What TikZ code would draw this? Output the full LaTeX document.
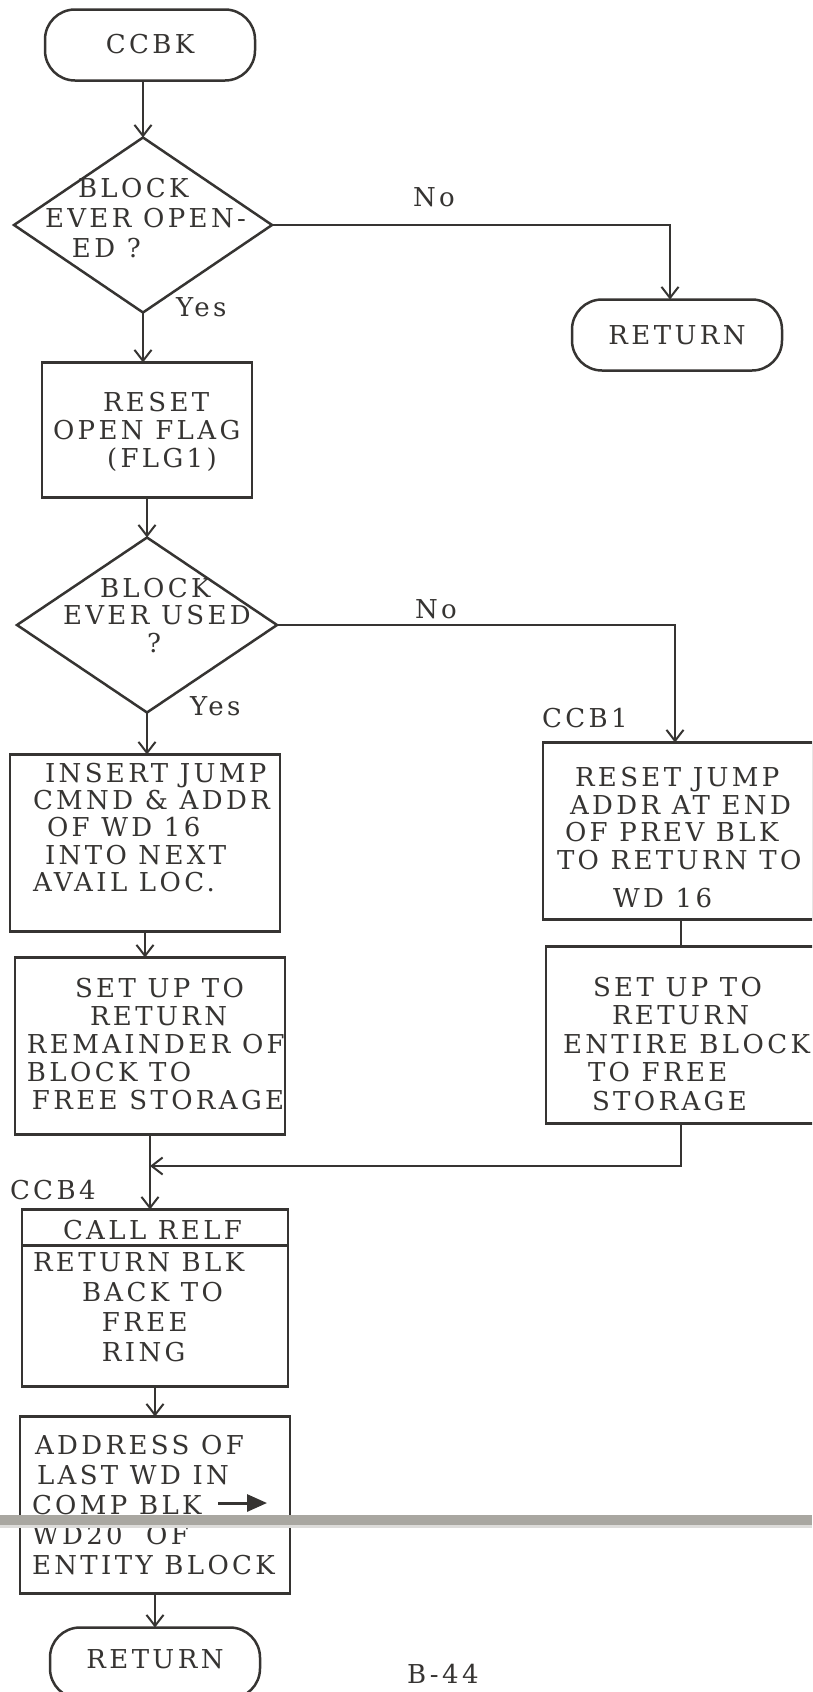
\documentclass[tikz,border=0pt]{standalone}
\usepackage{fontspec}
\setmainfont{DejaVu Serif}[LetterSpace=13]
\usetikzlibrary{arrows.meta,shapes.geometric,calc}
\definecolor{ink}{HTML}{363432}
\definecolor{fold}{HTML}{A9A7A1}
\newcommand\flowfont{\fontsize{26}{28}\selectfont}
\newcommand\lpitch[1]{\fontsize{26}{#1}\selectfont}

\begin{document}
\begin{tikzpicture}[x=1pt,y=-1pt,
  every node/.style={inner sep=0pt, outer sep=0pt},
  line/.style={draw=ink, line width=2.5pt},
  arr/.style={line, -{Straight Barb[length=11pt,width=17pt,line width=2pt]}},
  term/.style={line, rectangle, rounded corners=30pt, minimum width=210pt,
               minimum height=71pt, text=ink, font=\flowfont},
  proc/.style={line, rectangle, minimum width=270pt, minimum height=177pt},
  decision/.style={line, diamond, minimum width=258pt, minimum height=175pt},
  txt/.style={text=ink, font=\flowfont, align=left, anchor=north west},
]
\useasboundingbox (0,0) rectangle (812,1692);
\clip (0,0) rectangle (812,1692);
\fill[white] (0,0) rectangle (812,1692);

% ---- shapes ----
\node[term] (start) at (150,45) {\raisebox{2pt}{CCBK}};
\node[decision] (d1) at (143,225) {};
\node[term] (ret1) at (677,335) {\raisebox{-12pt}{RETURN}};
\node[proc, minimum width=210pt, minimum height=135pt] (reset) at (147,430) {};
\node[decision, minimum width=260pt] (d2) at (147,625) {};
\node[proc] (insert) at (145,843) {};
\node[proc] (setup) at (150,1046) {};
\node[proc] (resetj) at (678,831) {};
\node[proc] (setupe) at (681,1035) {};
\node[proc, minimum width=266pt] (relf) at (155,1298) {};
\node[proc] (addr) at (155,1505) {};
\node[term] (ret2) at (155,1663) {\raisebox{8pt}{RETURN}};
\coordinate (m) at (150,1166);

% ---- texts ----
\node[txt, font=\lpitch{30}] (d1t) at (45,178)
  {\hspace*{33pt}BLOCK\\EVER OPEN-\\\hspace*{27pt}ED ?};
\node[txt, font=\lpitch{27.5}] (d2t) at (63,578)
  {\hspace*{37pt}BLOCK\\EVER USED\\\hspace*{84pt}?};
\node[txt] (yes1) at (176,298) {Yes};
\node[txt] (yes2) at (190,697) {Yes};
\node[txt] (no1) at (413,188) {No};
\node[txt] (no2) at (415,600) {No};
\node[txt] (ccb1) at (542,708) {CCB1};
\node[txt] (ccb4) at (10,1180) {CCB4};
\node[txt] (resett) at (53,392)
  {\hspace*{50pt}RESET\\OPEN FLAG\\\hspace*{54pt}(FLG1)};
\node[txt, font=\lpitch{27.3}] (insertt) at (33,763)
  {\hspace*{12pt}INSERT JUMP\\CMND \& ADDR\\\hspace*{14pt}OF WD 16\\\hspace*{12pt}INTO NEXT\\AVAIL LOC.};
\node[txt] (setupt) at (27,978)
  {\hspace*{48pt}SET UP TO\\\hspace*{63pt}RETURN\\REMAINDER OF\\BLOCK TO\\\hspace*{5pt}FREE STORAGE};
\node[txt, font=\lpitch{27.7}] (resetjt) at (557,767)
  {\hspace*{18pt}RESET JUMP\\\hspace*{13pt}ADDR AT END\\\hspace*{8pt}OF PREV BLK\\TO RETURN TO\\[10pt]\hspace*{56pt}WD 16};
\node[txt, font=\lpitch{28.5}] (setupet) at (563,977)
  {\hspace*{30pt}SET UP TO\\\hspace*{49pt}RETURN\\ENTIRE BLOCK\\\hspace*{25pt}TO FREE\\\hspace*{29pt}STORAGE};
\node[txt] (relfh) at (63,1220) {CALL RELF};
\node[txt, font=\lpitch{29.7}] (relft) at (33,1253)
  {RETURN BLK\\\hspace*{49pt}BACK TO\\\hspace*{69pt}FREE\\\hspace*{69pt}RING};
\node[txt, font=\lpitch{30}] (addrt) at (32,1435)
  {\hspace*{3pt}ADDRESS OF\\\hspace*{5pt}LAST WD IN\\COMP BLK\\WD20\ \ OF\\ENTITY BLOCK};
\node[txt] (page) at (407,1664) {B-44};

% ---- divider in the RELF box, and the "into" arrow ----
\draw[line] ($(relf.north west)+(0,36)$) -- ($(relf.north east)+(0,36)$);
\coordinate (pa) at (218,1503);
\coordinate (pb) at (267,1503);
\draw[draw=ink, line width=3pt, -{Triangle[length=20pt,width=17pt]}] (pa) -- (pb);

% ---- connectors ----
\draw[arr] (start.south -| d1.north) -- (d1.north);
\draw[arr] (d1.east) -| (ret1.north -| 670,0);
\draw[arr] (d1.south) -- (d1.south |- reset.north);
\draw[arr] (reset.south) -- (reset.south |- d2.north);
\draw[arr] (d2.east) -| (resetj.north -| 675,0);
\draw[arr] (d2.south) -- (d2.south |- insert.north);
\draw[arr] (insert.south) -- (insert.south |- setup.north);
\draw[line] (resetj.south -| setupe.south) -- (setupe.north);
\draw[line] (setup.south) -- (setup.south |- relf.north);
\draw[arr] (m) -- (m |- relf.north);
\draw[arr] (setupe.south) |- (m);
\draw[arr] (relf.south -| addr.south) -- (addr.north);
\draw[arr] (addr.south) -- (addr.south |- ret2.north);

% ---- fold mark across the sheet ----
\fill[fold] (0,1515) rectangle (812,1525);
\fill[fold!40] (0,1525) rectangle (812,1528);
\end{tikzpicture}
\end{document}
